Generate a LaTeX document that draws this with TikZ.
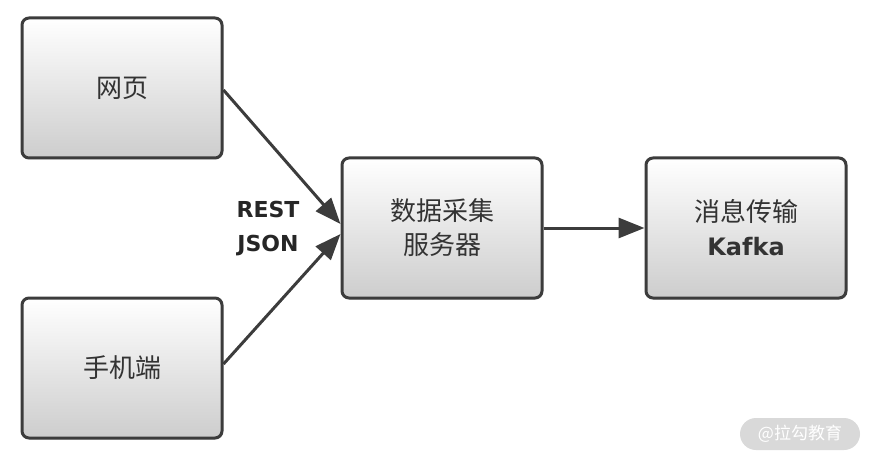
\documentclass[tikz,border=0pt]{standalone}
\usepackage{fontspec}
\setmainfont{DejaVu Sans}
\newfontfamily\cjk{Noto Sans CJK SC}
\usetikzlibrary{arrows.meta,shadows}
\definecolor{edge}{HTML}{3C3C3C}
\definecolor{lowgray}{HTML}{CDCDCD}
\definecolor{wm}{HTML}{D9D9D9}
\begin{document}
\begin{tikzpicture}[x=1pt,y=-1pt,
  box/.style={draw=edge, line width=3pt, rounded corners=7pt, top color=white, bottom color=lowgray,
    minimum width=200pt, minimum height=140pt, inner sep=0pt, align=center,
    font=\cjk\fontsize{26}{34}\selectfont, text=black!80,
    drop shadow={shadow xshift=1pt, shadow yshift=-1.5pt, opacity=0.25}},
  conn/.style={draw=edge, line width=3pt, -{Triangle[length=26pt,width=20pt]}},
  lbl/.style={font=\bfseries\fontsize{22}{34}\selectfont, text=black!85, align=center}]
\useasboundingbox (0,0) rectangle (874,462);
\node[box] (web) at (122,88) {网页};
\node[box] (mob) at (122,368) {手机端};
\node[box] (srv) at (442,228) {数据采集\\服务器};
\node[box] (kfk) at (746,228) {消息传输\\{\fontspec{DejaVu Sans}\bfseries\fontsize{24}{34}\selectfont Kafka}};
\draw[conn] (web.east |- 0,90) -- (srv.west |- 0,224);
\draw[conn] (mob.east |- 0,364) -- (srv.west |- 0,234);
\draw[conn] (srv.east) -- (kfk.west);
\node[lbl] (rest) at (268,229) {REST\\JSON};
\node[fill=wm, rounded corners=16pt, minimum width=120pt, minimum height=32pt, inner sep=0pt,
  text=white, font=\cjk\fontsize{17}{18}\selectfont] (wmk) at (800,434) {@拉勾教育};
\end{tikzpicture}
\end{document}
